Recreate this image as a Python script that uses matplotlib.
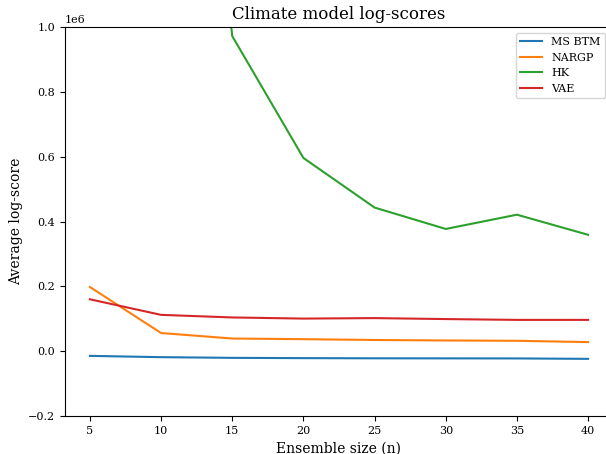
import matplotlib.pyplot as plt
import numpy as np

plt.rcParams['font.family'] = 'DejaVu Serif'

# tamanhos do ensemble e log-scores medios
ensemble_sizes = [5, 10, 15, 20, 25, 30, 35, 40]
ms_btm = [-14500, -18500, -20600, -21500, -22000, -22200, -22400, -23700]
nargp = [198000, 56000, 39000, 37000, 34500, 33000, 32000, 28000]
hk = [6000000, 3000000, 972000, 596000, 443000, 377000, 421000, 359000]
vae = [160000, 112000, 104000, 100500, 102000, 99000, 96500, 96500]

fig = plt.figure(figsize=(6.06, 4.54), dpi=100)
ax = fig.add_axes([65/606, 38/454, 548/606, 389/454])

ax.plot(ensemble_sizes, ms_btm, label='MS BTM', linewidth=1.5)
ax.plot(ensemble_sizes, nargp, label='NARGP', linewidth=1.5)
ax.plot(ensemble_sizes, hk, label='HK', linewidth=1.5)
ax.plot(ensemble_sizes, vae, label='VAE', linewidth=1.5)

ax.set_ylim(-200000, 1000000)
ax.set_xlim(3.25, 41.75)
ax.set_xticks([5, 10, 15, 20, 25, 30, 35, 40])
ax.set_yticks(np.arange(-0.2, 1.01, 0.2) * 1e6)
ax.spines['right'].set_visible(False)
ax.tick_params(labelsize=8)
ax.yaxis.get_offset_text().set_fontsize(8)

ax.set_title('Climate model log-scores', fontsize=12)
ax.set_xlabel('Ensemble size (n)', fontsize=10)
ax.set_ylabel('Average log-score', fontsize=10)
ax.legend(loc='upper right', fontsize=8, bbox_to_anchor=(0.9956, 1.0))

fig.savefig('out.png', dpi=100)
